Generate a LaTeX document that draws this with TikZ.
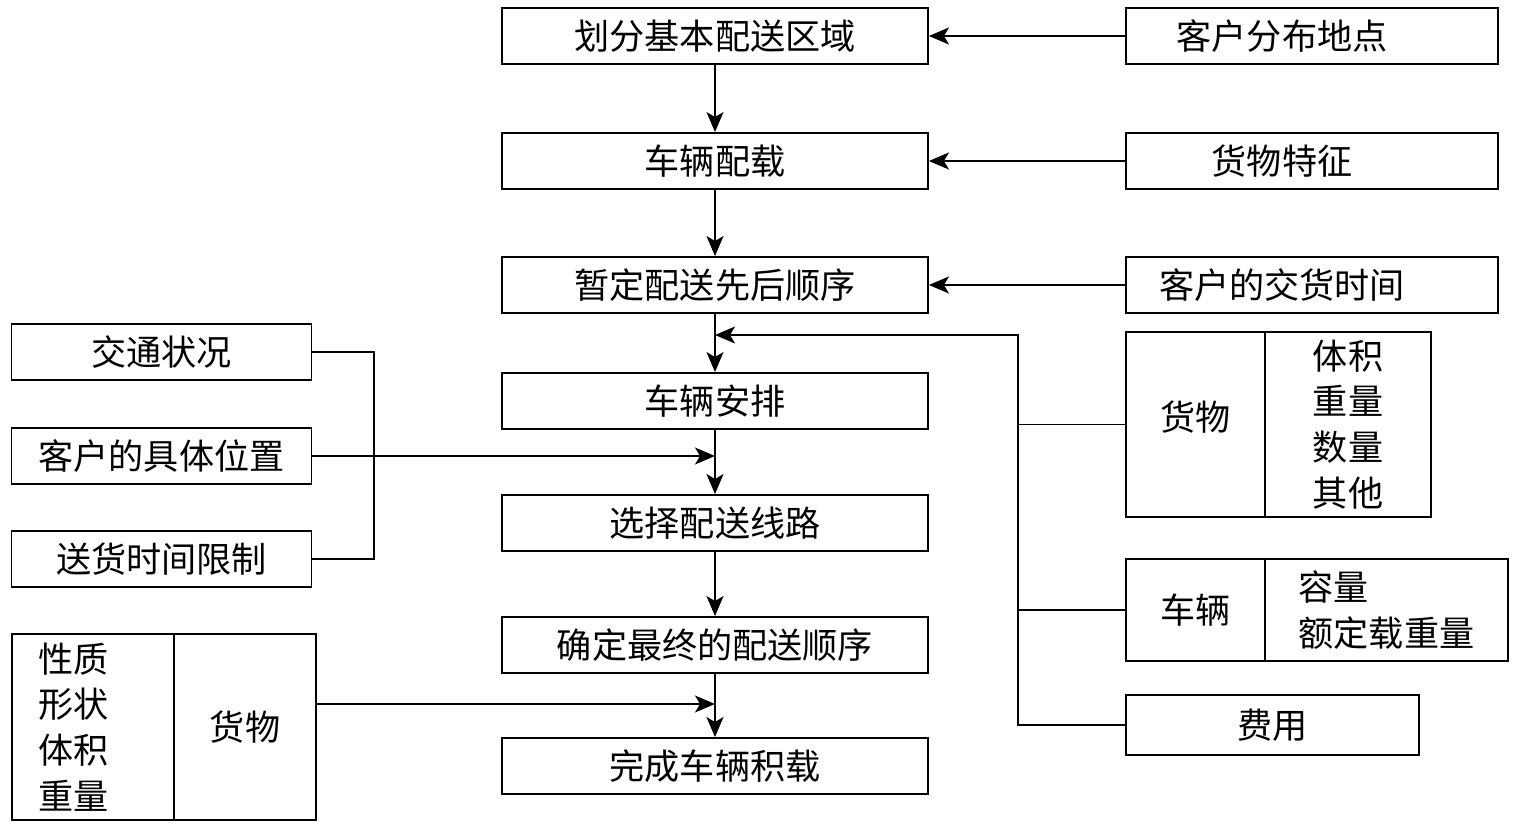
\documentclass[tikz,border=0pt]{standalone}
\usepackage{fontspec}
\newfontfamily\cjk{Noto Sans CJK SC}
\usetikzlibrary{arrows.meta}
\tikzset{
  box/.style={draw, line width=1.1pt, inner sep=0pt, align=center,
    font=\cjk\fontsize{20}{26}\selectfont},
  link/.style={line width=1.1pt},
  arr/.style={line width=1.1pt, -{Stealth[length=0.4cm, width=0.34cm, inset=0.1cm]}}
}
\begin{document}
\begin{tikzpicture}[x=0.02cm, y=-0.02cm]
      \useasboundingbox (0,0) rectangle (1515,824);
      % main column
      \node[box, minimum width=8.52cm, minimum height=1.12cm] (huafen) at (715,36) {划分基本配送区域};
      \node[box, minimum width=8.52cm, minimum height=1.12cm] (peizai) at (715,161) {车辆配载};
      \node[box, minimum width=8.52cm, minimum height=1.12cm] (zanding) at (715,285) {暂定配送先后顺序};
      \node[box, minimum width=8.52cm, minimum height=1.12cm] (anpai) at (715,401) {车辆安排};
      \node[box, minimum width=8.52cm, minimum height=1.12cm] (xianlu) at (715,523) {选择配送线路};
      \node[box, minimum width=8.52cm, minimum height=1.12cm] (zuizhong) at (715,645) {确定最终的配送顺序};
      \node[box, minimum width=8.52cm, minimum height=1.12cm] (wancheng) at (715,766) {完成车辆积载};
      % right inputs
      \node[box, minimum width=7.44cm, minimum height=1.12cm] (fenbu) at (1312,36) {\hspace*{-1.2cm}客户分布地点};
      \node[box, minimum width=7.44cm, minimum height=1.12cm] (tezheng) at (1312,161) {\hspace*{-1.2cm}货物特征};
      \node[box, minimum width=7.44cm, minimum height=1.12cm] (jiaohuo) at (1312,285) {\hspace*{-1.2cm}客户的交货时间};
      \node[box, minimum width=2.78cm, minimum height=3.7cm] (huowuA) at (1195.5,424.5) {\raisebox{0.34cm}{货物}};
      \node[box, minimum width=3.32cm, minimum height=3.7cm] (huowuB) at (1348,424.5) {体积\\重量\\数量\\其他};
      \node[box, minimum width=2.78cm, minimum height=2.04cm] (cheliangA) at (1195.5,610) {车辆};
      \node[box, minimum width=4.86cm, minimum height=2.04cm, align=left] (cheliangB) at (1386.5,610) {容量\\额定载重量};
      \node[box, minimum width=5.86cm, minimum height=1.2cm] (feiyong) at (1272.5,725) {费用};
      % left inputs
      \node[box, minimum width=6cm, minimum height=1.12cm] (jiaotong) at (161.5,352) {交通状况};
      \node[box, minimum width=6cm, minimum height=1.12cm] (weizhi) at (161.5,456) {客户的具体位置};
      \node[box, minimum width=6cm, minimum height=1.12cm] (xianzhi) at (161.5,559) {送货时间限制};
      \node[box, minimum height=3.72cm, inner xsep=0.52cm, text width=2.2cm, align=left] (xingzhi) at (93,727) {性质\\形状\\体积\\重量};
      \node[box, minimum width=2.84cm, minimum height=3.72cm] (huowuC) at (245,727) {货物};
      \coordinate (jr) at (1018,335);
      \coordinate (jl) at (374,456);
      \coordinate (jb) at (316,704);
      \begin{scope}[arr]
        \draw (huafen) -- (peizai);
        \draw (peizai) -- (zanding);
        \draw (zanding) -- (anpai);
        \draw (anpai) -- (xianlu);
        \draw (xianlu) -- (zuizhong);
        \draw (zuizhong) -- (wancheng);
        \draw (fenbu) -- (huafen);
        \draw (tezheng) -- (peizai);
        \draw (jiaohuo) -- (zanding);
        \draw (feiyong.west) -| (jr) -- (jr -| anpai.north);
        \draw (weizhi) -- (weizhi -| xianlu.north);
        \draw (jb) -- (jb -| wancheng.north);
      \end{scope}
      \begin{scope}[link]
        \draw (huowuA.west) -- (huowuA.west -| jr);
        \draw (cheliangA.west) -- (cheliangA.west -| jr);
        \draw (jiaotong.east) -| (jl) |- (xianzhi.east);
      \end{scope}
    \end{tikzpicture}
\end{document}
